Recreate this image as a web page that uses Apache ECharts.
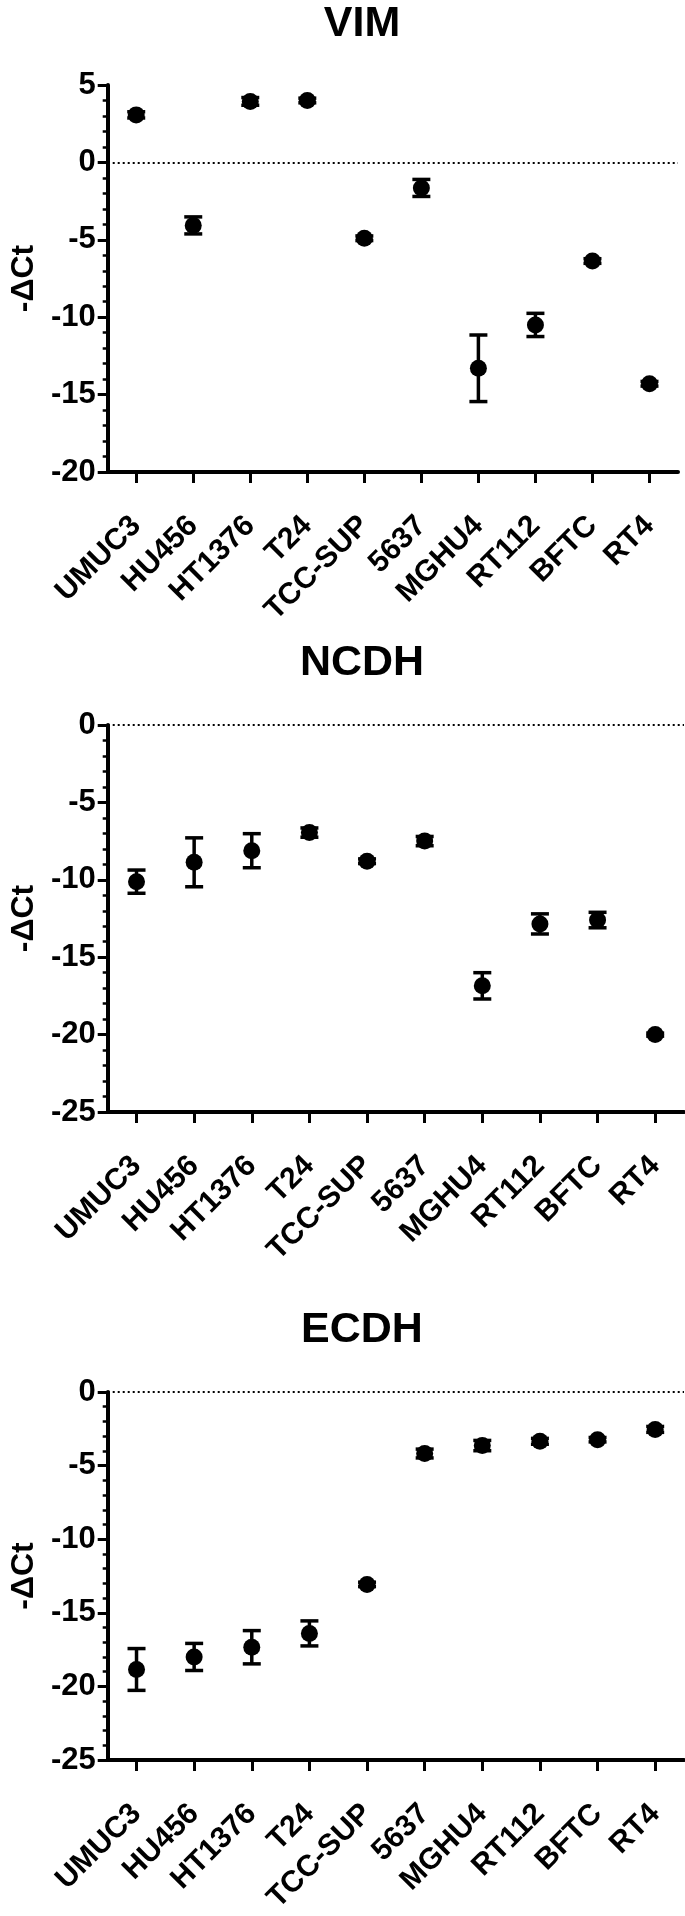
<!DOCTYPE html>
<html><head><meta charset="utf-8">
<script src="https://cdn.jsdelivr.net/npm/echarts@6/dist/echarts.min.js"></script>
<style>html,body{margin:0;padding:0;background:#fff}#c{width:685px;height:1916px}</style>
</head><body><div id="c"></div>
<script>
// ---- data ----
const categories = ['UMUC3','HU456','HT1376','T24','TCC-SUP','5637','MGHU4','RT112','BFTC','RT4'];
const panelTitles = ['VIM','NCDH','ECDH'];
const yAxisName = '-ΔCt';

const vimMean = [3.07, -4.07, 3.94, 4.0, -4.9, -1.65, -13.3, -10.5, -6.37, -14.3];
const vimErr  = [0.2, 0.55, 0.25, 0.15, 0.15, 0.55, 2.15, 0.75, 0.15, 0.15];

const ncdhMean = [-10.12, -8.87, -8.12, -6.95, -8.8, -7.5, -16.85, -12.85, -12.6, -20.0];
const ncdhErr  = [0.75, 1.58, 1.1, 0.3, 0.15, 0.3, 0.85, 0.65, 0.5, 0.1];

const ecdhMean = [-18.85, -18.0, -17.34, -16.4, -13.07, -4.18, -3.64, -3.35, -3.24, -2.54];
const ecdhErr  = [1.42, 0.92, 1.13, 0.85, 0.15, 0.3, 0.35, 0.2, 0.15, 0.2];

const vimTicks  = {min: -20, max: 5, interval: 5};
const ncdhTicks = {min: -25, max: 0, interval: 5};
const ecdhTicks = {min: -25, max: 0, interval: 5};

// ---- layout / style ----
const FONT = '"Liberation Sans", Arial, Helvetica, sans-serif';
const panels = [
  {mean: vimMean, err: vimErr, ticks: vimTicks, grid: {left: 95, top: 85, width: 583, height: 387}, titleY: 24},
  {mean: ncdhMean, err: ncdhErr, ticks: ncdhTicks, grid: {left: 101, top: 725, width: 583, height: 387}, titleY: 663},
  {mean: ecdhMean, err: ecdhErr, ticks: ecdhTicks, grid: {left: 101, top: 1392, width: 583, height: 388}, titleY: 1330}
];

function errRender(params, api) {
  const i = api.value(0), m = api.value(1), e = api.value(2);
  const top = api.coord([i, m + e]);
  const bot = api.coord([i, m - e]);
  const hw = 9;
  const style = {stroke: '#000', lineWidth: 3.5, fill: null};
  return {type: 'group', children: [
    {type: 'line', shape: {x1: top[0], y1: top[1], x2: bot[0], y2: bot[1]}, style: style},
    {type: 'line', shape: {x1: top[0] - hw, y1: top[1], x2: top[0] + hw, y2: top[1]}, style: style},
    {type: 'line', shape: {x1: bot[0] - hw, y1: bot[1], x2: bot[0] + hw, y2: bot[1]}, style: style}
  ]};
}

const option = {
  backgroundColor: '#fff',
  animation: false,
  title: [], grid: [], xAxis: [], yAxis: [], series: []
};

panels.forEach((p, k) => {
  option.title.push({
    text: panelTitles[k], left: 362, top: p.titleY - 21, textAlign: 'center', padding: 0,
    textStyle: {fontFamily: FONT, fontWeight: 'bold', fontSize: 43, color: '#000'}
  });
  option.grid.push(Object.assign({containLabel: false}, p.grid));
  option.xAxis.push({
    type: 'category', gridIndex: k, data: categories, boundaryGap: true,
    axisLine: {show: true, onZero: false, lineStyle: {color: '#000', width: 4}},
    axisTick: {show: true, alignWithLabel: true, length: 11, lineStyle: {color: '#000', width: 3}},
    axisLabel: {interval: 0, rotate: 45, margin: 49, color: '#000', fontFamily: FONT, fontWeight: 'bold', fontSize: 30},
    splitLine: {show: false}
  });
  option.yAxis.push({
    type: 'value', gridIndex: k, min: p.ticks.min, max: p.ticks.max, interval: p.ticks.interval,
    name: yAxisName, nameLocation: 'middle', nameRotate: 90, nameGap: 62,
    nameTextStyle: {fontFamily: FONT, fontWeight: 'bold', fontSize: 32, color: '#000'},
    axisLine: {show: true, onZero: false, lineStyle: {color: '#000', width: 4}},
    axisTick: {show: true, length: 10, lineStyle: {color: '#000', width: 3}},
    minorTick: {show: true, splitNumber: 5, length: 5, lineStyle: {color: '#000', width: 2.5}},
    axisLabel: {margin: 12, color: '#000', fontFamily: FONT, fontWeight: 'bold', fontSize: 31},
    splitLine: {show: false}
  });
  option.series.push({
    type: 'custom', xAxisIndex: k, yAxisIndex: k, renderItem: errRender, z: 2,
    encode: {x: 0, y: 1},
    data: categories.map((c, i) => [i, p.mean[i], p.err[i]])
  });
  option.series.push({
    type: 'scatter', xAxisIndex: k, yAxisIndex: k, z: 3,
    symbol: 'circle', symbolSize: 17, itemStyle: {color: '#000', opacity: 1},
    emphasis: {disabled: true},
    data: p.mean,
    markLine: {
      silent: true, symbol: 'none', label: {show: false},
      lineStyle: {type: [2, 3], color: '#000', width: 2, opacity: 1},
      data: [{yAxis: 0}]
    }
  });
});

const chart = echarts.init(document.getElementById('c'), null, {renderer: 'canvas'});
chart.setOption(option);
</script>
</body></html>
